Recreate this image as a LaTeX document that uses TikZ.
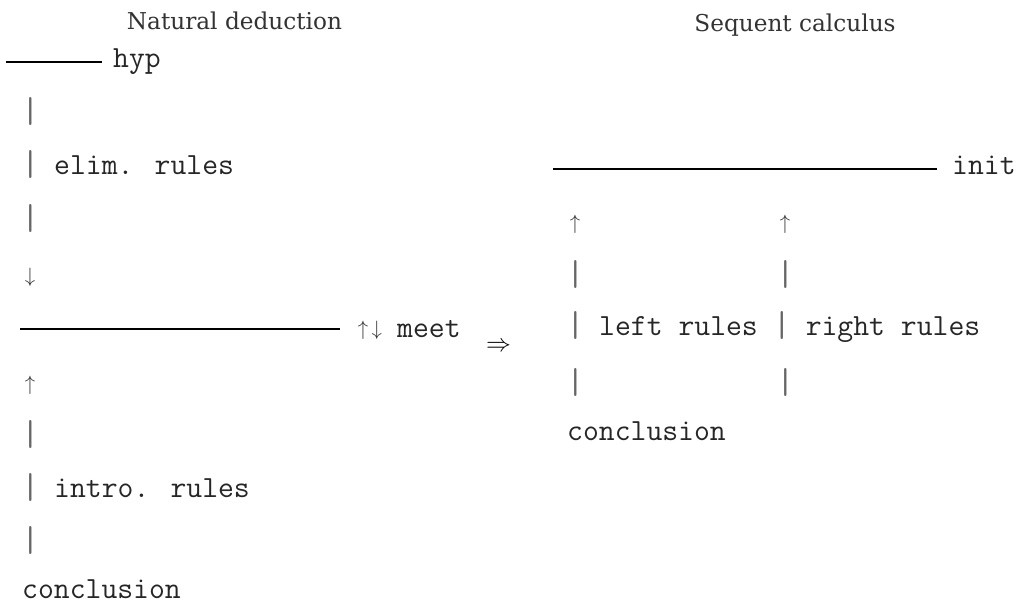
\documentclass[tikz,border=0pt]{standalone}
\usepackage{fontspec}
\setmainfont{DejaVu Serif}

% a thin grey bar, one typewriter column wide
\newcommand\vbar{\makebox[0.525em]{\color{black!60}\fontsize{36}{38}\selectfont\raisebox{-1pt}{|}}}

\begin{document}
\begin{tikzpicture}[x=1pt,y=-1pt,
    tt/.style={anchor=base west,inner sep=0pt,text=black!85,
      font=\fontsize{30.8}{34}\selectfont\ttfamily},
    arr/.style={anchor=base,inner sep=0pt,text=black!80,
      font=\fontsize{20}{22}\selectfont},
    title/.style={anchor=base,inner sep=0pt,text=black!80,
      font=\fontsize{23.2}{26}\selectfont},
    bar/.style={line width=2.5pt}]
  \useasboundingbox (0,0) rectangle (1023,604);

  \node[title] (nd) at (234.5,30) {Natural deduction};
  \node[title] (sc) at (795,32) {Sequent calculus};

  % natural deduction: elim. rules down, intro. rules up
  \coordinate (hypL) at (6,62);
  \coordinate (hypR) at (102,62);
  \draw[bar] (hypL) -- (hypR);
  \node[tt] (hyp) at (113,68) {hyp};

  \node[tt] (e1) at (22,122) {\vbar};
  \node[tt] (elim) at (22,175) {\vbar{} elim. rules};
  \node[tt] (e2) at (22,229) {\vbar};
  \node[arr] (down) at (30,283) {$\downarrow$};

  \coordinate (meetL) at (20,329);
  \coordinate (meetR) at (340,329);
  \draw[bar] (meetL) -- (meetR);
  \node[arr] (updown) at (370,335) {$\uparrow\,\downarrow$};
  \node[tt] (meet) at (397,337) {meet};

  \node[arr] (up) at (30,390) {$\uparrow$};
  \node[tt] (i1) at (22,444) {\vbar};
  \node[tt] (intro) at (22,497) {\vbar{} intro. rules};
  \node[tt] (i2) at (22,550) {\vbar};
  \node[tt] (concl) at (22,598) {conclusion};

  \node[inner sep=0pt,font=\fontsize{23}{26}\selectfont] (to) at (498.5,347) {$\Rightarrow$};

  % sequent calculus: everything grows upwards
  \coordinate (initL) at (553,169);
  \coordinate (initR) at (937,169);
  \draw[bar] (initL) -- (initR);
  \node[tt] (init) at (952,175) {init};

  \node[arr] (lup) at (575,230) {$\uparrow$};
  \node[arr] (rup) at (785,230) {$\uparrow$};
  \node[tt] (l1) at (567,285) {\vbar\hspace{6.3em}\vbar};
  \node[tt] (lr) at (567,335) {\vbar{} left rules \vbar{} right rules};
  \node[tt] (l2) at (567,392) {\vbar\hspace{6.3em}\vbar};
  \node[tt] (sconcl) at (567,440) {conclusion};
\end{tikzpicture}
\end{document}
